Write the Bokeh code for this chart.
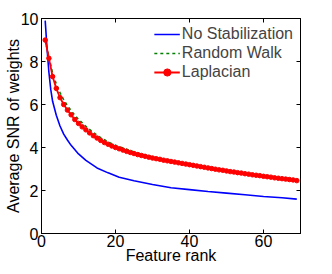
from bokeh.plotting import figure
from bokeh.models import Range1d, LinearAxis, FixedTicker, Legend
from bokeh.embed import file_html
from bokeh.resources import INLINE

# Feature rank
x_lap = list(range(1, 70))
# Laplacian
y_lap = [9.00, 8.15, 7.30, 6.75, 6.32, 6.00, 5.74, 5.52, 5.30, 5.12,
         4.96, 4.82, 4.68, 4.55, 4.44, 4.33, 4.23, 4.15, 4.07, 4.00,
         3.94, 3.88, 3.82, 3.77, 3.72, 3.67, 3.63, 3.59, 3.55, 3.51,
         3.48, 3.45, 3.41, 3.38, 3.35, 3.32, 3.29, 3.26, 3.23, 3.20,
         3.17, 3.14, 3.11, 3.08, 3.05, 3.02, 2.99, 2.96, 2.94, 2.91,
         2.88, 2.86, 2.83, 2.81, 2.78, 2.76, 2.73, 2.71, 2.69, 2.66,
         2.64, 2.62, 2.59, 2.57, 2.55, 2.53, 2.51, 2.49, 2.46]
# Random Walk
x_rw = [1, 2, 3, 4, 5, 6, 7, 8, 9, 10, 12, 14, 16, 18, 20, 25, 30, 35, 40,
        45, 50, 55, 60, 65, 69]
y_rw = [9.00, 8.22, 7.45, 6.95, 6.55, 6.22, 5.95, 5.72, 5.50, 5.31, 4.98,
        4.70, 4.46, 4.26, 4.10, 3.79, 3.56, 3.38, 3.22, 3.07, 2.92, 2.79,
        2.67, 2.56, 2.47]
# No Stabilization
x_ns = [1, 1.5, 2, 2.5, 3, 4, 5, 6, 7, 8, 10, 12, 15, 18, 21, 25, 30, 35,
        40, 45, 50, 55, 60, 65, 69]
y_ns = [9.90, 8.60, 7.50, 6.70, 6.15, 5.50, 5.00, 4.62, 4.35, 4.10, 3.70,
        3.40, 3.05, 2.82, 2.62, 2.45, 2.28, 2.13, 2.04, 1.95, 1.88, 1.80,
        1.72, 1.66, 1.60]

x_ticks = [0, 20, 40, 60]
y_ticks = [0, 2, 4, 6, 8, 10]

FONT = "Liberation Sans"

p = figure(width=316, height=266, output_backend="svg", toolbar_location=None,
           x_range=Range1d(0, 70), y_range=Range1d(0, 10),
           min_border_left=41, min_border_right=16, min_border_top=18,
           min_border_bottom=0)
p.grid.visible = False
p.outline_line_color = "black"
p.outline_line_width = 1

l1 = p.line(x_ns, y_ns, line_color="#0000ff", line_width=1.6)
l2 = p.line(x_rw, y_rw, line_color="#008000", line_width=1.6, line_dash="3 3")
l3 = p.line(x_lap, y_lap, line_color="#ff0000", line_width=1.8)
s3 = p.scatter(x_lap, y_lap, size=4.5, marker="circle", fill_color="#ff0000",
               line_color="#ff0000")

def style_axis(ax, labels=True):
    ax.axis_line_color = "black"
    ax.major_tick_line_color = "black"
    ax.major_tick_in = 4
    ax.major_tick_out = 0
    ax.minor_tick_line_color = None
    ax.major_label_text_font = FONT
    ax.major_label_text_font_size = "16px"
    ax.major_label_text_color = "black"
    ax.axis_label_text_font = FONT
    ax.axis_label_text_font_size = "16px"
    ax.axis_label_text_font_style = "normal"
    ax.axis_label_text_color = "black"
    if not labels:
        ax.major_label_text_font_size = "0px"
        ax.major_label_text_color = None

p.xaxis.ticker = FixedTicker(ticks=x_ticks)
p.yaxis.ticker = FixedTicker(ticks=y_ticks)
p.xaxis.axis_label = "Feature rank"
p.yaxis.axis_label = "Average SNR of weights"
style_axis(p.xaxis[0])
style_axis(p.yaxis[0])
p.xaxis.major_label_standoff = 1
p.yaxis.major_label_standoff = 3
p.xaxis.axis_label_standoff = -3
p.yaxis.axis_label_standoff = -4

top = LinearAxis(ticker=FixedTicker(ticks=x_ticks))
right = LinearAxis(ticker=FixedTicker(ticks=y_ticks))
style_axis(top, labels=False)
style_axis(right, labels=False)
top.major_label_standoff = 0
right.major_label_standoff = 0
p.add_layout(top, "above")
p.add_layout(right, "right")

legend = Legend(items=[("No Stabilization", [l1]),
                       ("Random Walk", [l2]),
                       ("Laplacian", [l3, s3])],
                location="top_right")
legend.background_fill_alpha = 0
legend.border_line_color = None
legend.label_text_font = FONT
legend.label_text_font_size = "16px"
legend.label_height = 18
legend.glyph_height = 18
legend.glyph_width = 26
legend.label_standoff = 2
legend.spacing = 1
legend.padding = 4
legend.margin = 7
p.add_layout(legend)

open("out.html", "w").write(file_html(p, INLINE))
